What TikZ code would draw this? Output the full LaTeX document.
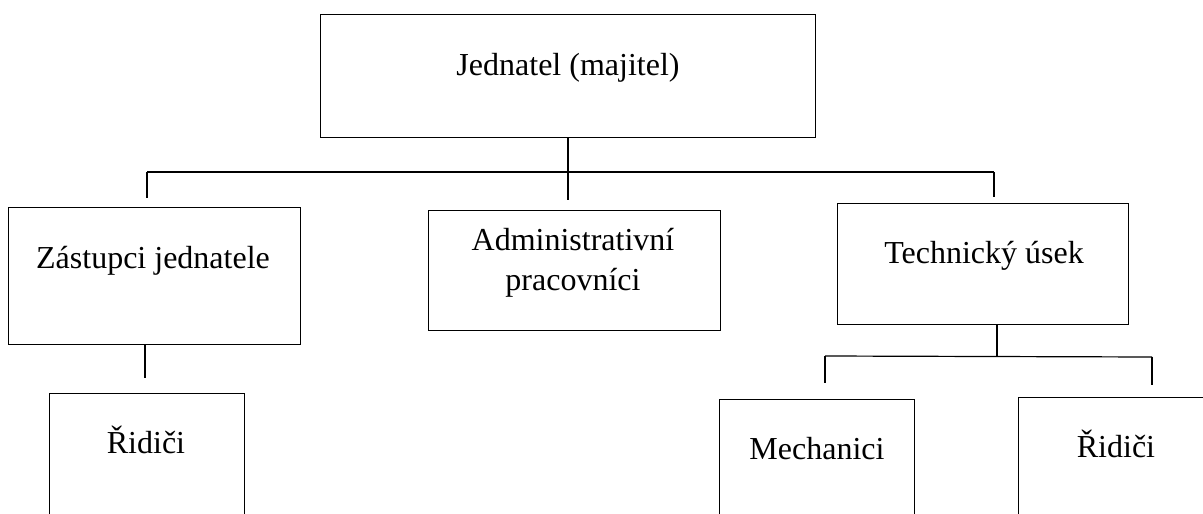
\documentclass[tikz,border=0pt]{standalone}
\usepackage{fontspec}
\setmainfont{Liberation Serif}
\begin{document}
\begin{tikzpicture}[x=1pt,y=-1pt,line width=1.2pt,
  box/.style={draw,rectangle,anchor=north west,inner sep=0pt},
  lbl/.style={font=\fontsize{32}{34}\selectfont,inner sep=0pt,anchor=base}]
\clip (0,0) rectangle (1203,514);
\fill[white] (0,0) rectangle (1203,514);
% boxes
\node[box,minimum width=495pt,minimum height=123pt] (top) at (320,14) {};
\node[box,minimum width=292pt,minimum height=137pt] (zast) at (8,207) {};
\node[box,minimum width=292pt,minimum height=120pt] (admin) at (428,210) {};
\node[box,minimum width=291pt,minimum height=121pt] (tech) at (837,203) {};
\node[box,minimum width=195pt,minimum height=160pt] (rid1) at (49,393) {};
\node[box,minimum width=195pt,minimum height=160pt] (mech) at (719,399) {};
\node[box,minimum width=230pt,minimum height=160pt] (rid2) at (1018,397) {};
% labels
\node[lbl] (tTop) at (568,75) {Jednatel (majitel)};
\node[lbl] (tZast) at (153,268) {Zástupci jednatele};
\node[lbl] (tAdm1) at (573,250) {Administrativní};
\node[lbl] (tAdm2) at (573,290) {pracovníci};
\node[lbl] (tTech) at (984,263) {Technický úsek};
\node[lbl] (tRid1) at (146,453) {Řidiči};
\node[lbl] (tMech) at (817,459) {Mechanici};
\node[lbl] (tRid2) at (1116,457) {Řidiči};
% connector coordinates
\coordinate (c0) at (568,200);
\coordinate (h1) at (147,172);
\coordinate (h2) at (994,172);
\coordinate (d1) at (147,198);
\coordinate (d2) at (994,197);
\coordinate (z2) at (145,378);
\coordinate (t0) at (997,357);
\coordinate (g1) at (825,356);
\coordinate (g2) at (1152,357);
\coordinate (e1) at (825,383);
\coordinate (e2) at (1152,385);
% connectors
\draw (c0 |- top.south) -- (c0);
\draw (h1) -- (h2);
\draw (h1) -- (d1);
\draw (h2) -- (d2);
\draw (z2 |- zast.south) -- (z2);
\draw (t0 |- tech.south) -- (t0);
\draw (g1) -- (g2);
\draw (g1) -- (e1);
\draw (g2) -- (e2);
\end{tikzpicture}
\end{document}
